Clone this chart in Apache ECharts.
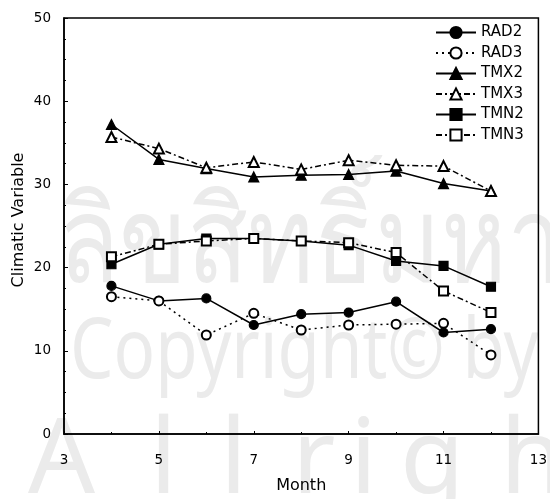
<!DOCTYPE html>
<html>
<head>
<meta charset="utf-8">
<script src="https://cdn.jsdelivr.net/npm/echarts@6/dist/echarts.min.js"></script>
<style>
  html, body { margin: 0; padding: 0; background: #fff; }
  #chart { width: 550px; height: 499px; }
</style>
</head>
<body>
<div id="chart"></div>
<script>
// Monthly climatic variables, months 4..12
const months = [4, 5, 6, 7, 8, 9, 10, 11, 12];
const rad2 = [17.8, 16.0, 16.3, 13.1, 14.4, 14.6, 15.9, 12.2, 12.6];
const rad3 = [16.5, 16.0, 11.9, 14.5, 12.5, 13.1, 13.2, 13.3, 9.5];
const tmx2 = [37.2, 33.0, 31.9, 30.9, 31.1, 31.2, 31.6, 30.1, 29.2];
const tmx3 = [35.7, 34.3, 32.0, 32.7, 31.8, 32.9, 32.3, 32.2, 29.2];
const tmn2 = [20.4, 22.8, 23.5, 23.5, 23.2, 22.7, 20.8, 20.2, 17.7];
const tmn3 = [21.3, 22.8, 23.2, 23.5, 23.2, 23.0, 21.8, 17.2, 14.6];
const xTicks = [3, 5, 7, 9, 11, 13];
const yTicks = [0, 10, 20, 30, 40, 50];

const FONT = '"DejaVu Sans", Verdana, sans-serif';
const SOLID = 'solid';
const DOT = [2, 4];
const DASHDOT = [6, 3, 2, 3];

function pairs(ys) { return months.map((m, i) => [m, ys[i]]); }

function line(name, ys, symbol, size, dash) {
  return {
    name, type: 'line', data: pairs(ys),
    symbol, symbolSize: size,
    showAllSymbol: true,
    color: '#000',
    itemStyle: { color: '#000', borderColor: '#000', borderWidth: 1.2 },
    lineStyle: { color: '#000', width: 1.5, type: dash },
    emphasis: { disabled: true },
    z: 3
  };
}

// faint background lettering
const wmColor = '#ebebeb';
const wmFont = '"Noto Sans", "Open Sans", "DejaVu Sans", sans-serif';
const wmLetters = [['A', 28], ['l', 150], ['l', 220], ['r', 292], ['i', 350], ['g', 400], ['h', 500]];
const watermark = [
  { type: 'text', x: 58, y: 188, scaleY: 1.2, z: -10,
    style: { text: 'ลิขสิทธิ์มหาวิทยาลัย', font: '100px ' + wmFont, fill: wmColor, verticalAlign: 'top' } },
  { type: 'text', x: 70, y: 312, scaleX: 0.82, z: -10,
    style: { text: 'Copyright© by', font: '84px ' + wmFont, fill: wmColor, verticalAlign: 'top' } }
].concat(wmLetters.map(([ch, x]) => ({
  type: 'text', x: x, y: 411, z: -10,
  style: { text: ch, font: '105px ' + wmFont, fill: wmColor, verticalAlign: 'top' }
})));

const chart = echarts.init(document.getElementById('chart'), null, { renderer: 'canvas' });
chart.setOption({
  backgroundColor: '#fff',
  animation: false,
  textStyle: { fontFamily: FONT },
  graphic: watermark.concat([
    { type: 'text', x: 19, y: 220, rotation: Math.PI / 2, z: 5,
      style: { text: 'Climatic Variable', font: '16px ' + FONT, fill: '#000',
               align: 'center', verticalAlign: 'middle' } }
  ]),
  grid: {
    left: 64, right: 9, top: 18, bottom: 63,
    show: true, borderColor: '#000', borderWidth: 1.5, backgroundColor: 'transparent'
  },
  legend: {
    orient: 'vertical',
    left: 435, top: 25, padding: 0,
    itemWidth: 40, itemHeight: 14, itemGap: 5.5,
    textStyle: { fontFamily: FONT, fontSize: 15, color: '#000' },
    selectedMode: false,
    data: ['RAD2', 'RAD3', 'TMX2', 'TMX3', 'TMN2', 'TMN3']
  },
  xAxis: {
    type: 'value', min: xTicks[0], max: xTicks[xTicks.length - 1], interval: 2,
    name: 'Month', nameLocation: 'middle', nameGap: 44,
    nameTextStyle: { fontFamily: FONT, fontSize: 16, color: '#000' },
    axisLine: { lineStyle: { color: '#000', width: 1.5 } },
    axisTick: { show: true, inside: true, length: 3, lineStyle: { color: '#000' } },
    minorTick: { show: true, splitNumber: 2, length: 2, lineStyle: { color: '#000' } },
    axisLabel: { fontFamily: FONT, fontSize: 13.5, color: '#000', margin: 19 },
    splitLine: { show: false }
  },
  yAxis: {
    type: 'value', min: yTicks[0], max: yTicks[yTicks.length - 1], interval: 10,
    axisLine: { show: true, lineStyle: { color: '#000', width: 1.5 } },
    axisTick: { show: true, inside: true, length: 4, lineStyle: { color: '#000' } },
    minorTick: { show: true, splitNumber: 4, length: 2, lineStyle: { color: '#000' } },
    axisLabel: { fontFamily: FONT, fontSize: 13.5, color: '#000', margin: 13 },
    splitLine: { show: false }
  },
  series: [
    line('RAD2', rad2, 'circle', 9, SOLID),
    line('RAD3', rad3, 'emptyCircle', 9, DOT),
    line('TMX2', tmx2, 'triangle', 10, SOLID),
    line('TMX3', tmx3, 'emptyTriangle', 10, DASHDOT),
    line('TMN2', tmn2, 'rect', 9, SOLID),
    line('TMN3', tmn3, 'emptyRect', 9, DASHDOT)
  ]
});
</script>
</body>
</html>
